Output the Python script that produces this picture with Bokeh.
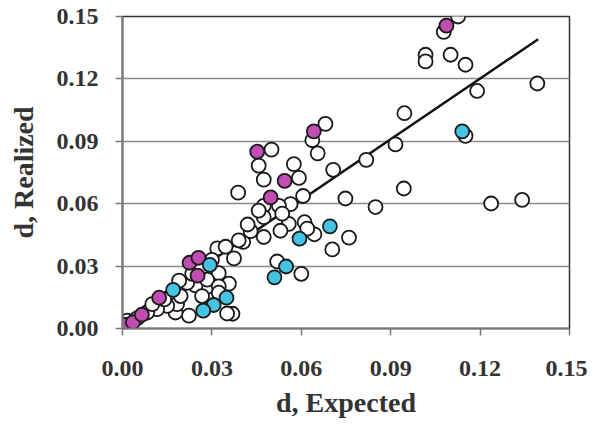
from bokeh.plotting import figure
from bokeh.embed import file_html
from bokeh.resources import INLINE
from bokeh.models import FixedTicker, NumeralTickFormatter
import numpy as np

# ---- data ----
open_x = [0.1126, 0.1078, 0.1017, 0.1017, 0.1101, 0.1151, 0.1190, 0.1392, 0.0946, 0.1151,
          0.0916, 0.0818, 0.0707, 0.0944, 0.0748, 0.0849, 0.1237, 0.1341, 0.0681, 0.0637,
          0.0655, 0.0575, 0.0592, 0.0606, 0.0564, 0.0611, 0.0644, 0.0760, 0.0704, 0.0558,
          0.0600, 0.0519, 0.0405, 0.0374, 0.0474, 0.0430, 0.0369, 0.0500, 0.0457, 0.0474,
          0.0388, 0.0474, 0.0525, 0.0474, 0.0457, 0.0536, 0.0318, 0.0346, 0.0390, 0.0323,
          0.0357, 0.0351, 0.0284, 0.0245, 0.0223, 0.0178, 0.0183, 0.0150, 0.0195, 0.0116,
          0.0083, 0.0016, 0.0267, 0.0217, 0.0234, 0.0284, 0.0323, 0.0262, 0.0323, 0.0100,
          0.0050, 0.0420, 0.0620, 0.0530, 0.0300, 0.0140, 0.0190]
open_y = [0.1500, 0.1426, 0.1316, 0.1284, 0.1316, 0.1268, 0.1142, 0.1178, 0.1035, 0.0926,
          0.0885, 0.0811, 0.0763, 0.0673, 0.0625, 0.0584, 0.0601, 0.0618, 0.0984, 0.0905,
          0.0842, 0.0790, 0.0724, 0.0637, 0.0598, 0.0511, 0.0453, 0.0437, 0.0380, 0.0503,
          0.0263, 0.0322, 0.0416, 0.0337, 0.0440, 0.0468, 0.0071, 0.0860, 0.0783, 0.0716,
          0.0653, 0.0590, 0.0590, 0.0535, 0.0567, 0.0552, 0.0385, 0.0393, 0.0424, 0.0266,
          0.0216, 0.0072, 0.0200, 0.0207, 0.0062, 0.0077, 0.0117, 0.0109, 0.0156, 0.0093,
          0.0077, 0.0038, 0.0156, 0.0219, 0.0263, 0.0235, 0.0203, 0.0290, 0.0172, 0.0117,
          0.0050, 0.0500, 0.0480, 0.0470, 0.0330, 0.0140, 0.0230]

magenta_x = [0.0005, 0.0035, 0.0065, 0.0123, 0.0225, 0.0255, 0.0252, 0.0452, 0.0497, 0.0544, 0.0642, 0.1087]
magenta_y = [0.0018, 0.0030, 0.0066, 0.0148, 0.0316, 0.0340, 0.0254, 0.0850, 0.0630, 0.0710, 0.0948, 0.1456]

cyan_x = [0.0170, 0.0293, 0.0349, 0.0306, 0.0271, 0.0510, 0.0549, 0.0594, 0.0696, 0.1140]
cyan_y = [0.0186, 0.0306, 0.0148, 0.0113, 0.0086, 0.0246, 0.0298, 0.0432, 0.0491, 0.0948]

fit_slope = 0.972
fit_intercept = 0.0035
fit_x = [0.0, 0.1395]

ticks = [0.0, 0.03, 0.06, 0.09, 0.12, 0.15]

p = figure(width=587, height=420, output_backend="svg", toolbar_location=None,
           x_range=(0, 0.15), y_range=(0, 0.15),
           min_border_left=122, min_border_right=18, min_border_top=16, min_border_bottom=87)
p.background_fill_color = "white"
p.border_fill_color = "white"
p.outline_line_color = "#333333"
p.outline_line_width = 1.5

p.xgrid.grid_line_color = None
p.ygrid.grid_line_color = "#8a8a8a"
p.ygrid.grid_line_width = 1.6

for ax in (p.xaxis[0], p.yaxis[0]):
    ax.ticker = FixedTicker(ticks=ticks)
    ax.formatter = NumeralTickFormatter(format="0.00")
    ax.major_label_text_font = "Liberation Serif"
    ax.major_label_text_font_style = "bold"
    ax.major_label_text_font_size = "24px"
    ax.major_label_text_color = "#333333"
    ax.axis_label_text_font = "Liberation Serif"
    ax.axis_label_text_font_style = "bold"
    ax.axis_label_text_font_size = "28px"
    ax.axis_label_text_color = "#333333"
    ax.minor_tick_line_color = None
    ax.major_tick_in = 0
    ax.major_tick_out = 7
    ax.major_tick_line_color = "#777777"
    ax.major_tick_line_width = 1.5
    ax.axis_line_color = "#777777"
    ax.axis_line_width = 2

p.xaxis.axis_label = "d, Expected"
p.yaxis.axis_label = "d, Realized"
p.xaxis.major_label_standoff = 25
p.yaxis.major_label_standoff = 17
p.xaxis.axis_label_standoff = 8
p.yaxis.axis_label_standoff = 15

fx = np.array(fit_x)
p.line(fx, fit_slope * fx + fit_intercept, line_color="#111111", line_width=2.5)

p.scatter(open_x, open_y, size=14, fill_color="white", line_color="#1a1a1a", line_width=1.8)
p.scatter(magenta_x, magenta_y, size=14, fill_color="#c04cb4", line_color="#1a1a1a", line_width=1.8)
p.scatter(cyan_x, cyan_y, size=14, fill_color="#45c3e3", line_color="#1a1a1a", line_width=1.8)

open("out.html", "w").write(file_html(p, INLINE))
